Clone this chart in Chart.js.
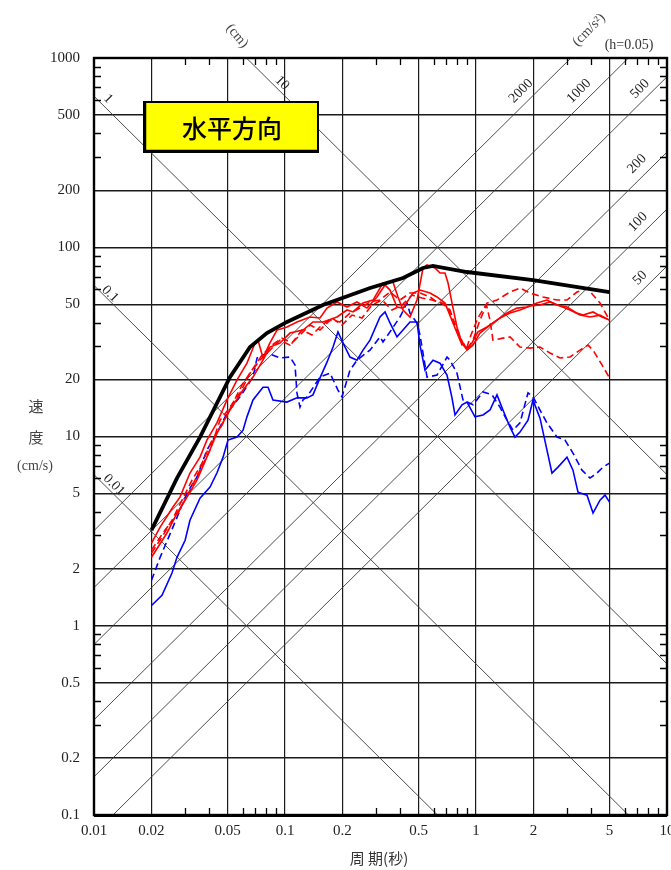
<!DOCTYPE html>
<html><head><meta charset="utf-8">
<script src="https://cdn.jsdelivr.net/npm/chart.js@4/dist/chart.umd.min.js"></script>
<style>html,body{margin:0;padding:0;background:#fff;}#wrap{width:671px;height:870px;position:relative;}</style>
</head><body><div id="wrap"><canvas id="c" width="671" height="870"></canvas></div>
<script>
// ---- axis ticks ----
const xTicks = [0.01,0.02,0.05,0.1,0.2,0.5,1,2,5,10];
const yTicks = [0.1,0.2,0.5,1,2,5,10,20,50,100,200,500,1000];
const minorMults = [3,4,6,7,8,9];
// ---- tripartite reference lines ----
const dispLines = [0.01,0.1,1,10];            // cm
const accLines = [50,100,200,500,1000,2000];  // cm/s2
// ---- envelope (black) ----
const envT = [0.02,0.0272,0.0359,0.0515,0.0656,0.0804,0.1024,0.158,0.279,0.415,0.528,0.595,0.897,1.99,5];
const envV = [3.2,6.03,9.93,20.6,29.7,35.2,40.3,49.5,60.9,68.8,77.7,79.6,74.0,67.1,58.0];
// ---- red solid 1 ----
const r1T = [0.02,0.0222,0.0259,0.0282,0.0318,0.0359,0.039,0.044,0.0497,0.0561,0.0632,0.0697,0.0722,0.0767,0.0834,0.0908,0.1024,0.1155,0.1351,0.1525,0.1659,0.1872,0.2112,0.2381,0.2687,0.3031,0.342,0.3675,0.3905,0.4147,0.4512,0.491,0.528,0.554,0.61,0.648,0.688,0.714,0.749,0.795,0.845,0.897,0.953,1.024,1.142,1.288,1.453,1.639,1.849,2.086,2.353,2.655,2.995,3.379,3.633,4.099,4.568,5];
const r1V = [2.73,3.32,4.24,4.78,6.41,7.78,9.57,11.8,15.6,19.9,24.4,31.2,32.3,26.0,31.2,36.5,37.9,40.3,42.8,42.3,47.7,51.4,48.3,51.4,47.7,54.6,65.5,65.5,54.6,46.6,42.8,52.6,77.7,80.6,77.7,73.1,73.1,64.7,50.7,37.9,31.2,29.3,31.2,35.7,37.9,41.2,44.9,47.7,48.3,50.7,52.6,49.5,48.3,44.9,43.8,45.5,42.8,41.2];
// ---- red solid 2 ----
const r2T = [0.02,0.0241,0.0272,0.0307,0.0346,0.039,0.044,0.0515,0.0603,0.068,0.0767,0.0834,0.0941,0.1062,0.1242,0.1401,0.1581,0.1872,0.2112,0.227,0.2561,0.2889,0.3258,0.3545,0.3858,0.4147,0.4678,0.509,0.5742,0.6248,0.6882,0.7578,0.8245,0.897,0.9645,1.049,1.184,1.335,1.507,1.699,1.918,2.163,2.44,2.753,3.105,3.503,3.953,4.459,5];
const r2V = [2.30,3.09,3.94,4.78,5.88,7.78,10.4,13.8,17.6,20.6,25.3,29.7,31.2,35.2,36.5,40.3,40.3,42.8,46.6,45.5,50.7,52.6,64.7,59.4,48.3,47.7,57.3,59.4,57.3,54.6,50.7,39.8,32.3,28.6,30.4,35.2,38.8,42.3,44.9,46.6,48.9,49.5,51.4,48.9,46.6,43.8,42.8,43.8,41.2];
// ---- red dashed 1 ----
const r3T = [0.02,0.0235,0.0272,0.0318,0.0359,0.0405,0.0457,0.0503,0.0581,0.0656,0.074,0.0834,0.0941,0.1062,0.1198,0.1351,0.1525,0.172,0.194,0.2189,0.247,0.2786,0.3143,0.3545,0.3999,0.4512,0.509,0.5742,0.6248,0.7049,0.7762,0.8447,0.897,0.9414,1.024,1.142,1.288,1.507,1.699,1.918,2.242,2.655,2.995,3.379,3.812,4.459,5];
const r3V = [2.51,3.20,3.84,5.21,6.64,8.48,12.2,13.8,17.0,21.6,25.3,28.6,32.3,30.4,34.4,38.8,36.5,41.2,40.3,44.9,47.7,51.4,52.6,58.0,52.6,57.3,57.3,54.6,51.4,49.5,38.8,30.4,29.7,34.4,42.3,50.7,52.6,58.0,60.9,57.3,54.6,52.6,52.6,58.0,60.9,50.7,41.2];
// ---- red dashed 2 ----
const r4T = [0.02,0.0227,0.0256,0.0289,0.0326,0.0368,0.0415,0.0468,0.0528,0.0595,0.0671,0.0758,0.0855,0.0964,0.1088,0.1227,0.1384,0.1561,0.1762,0.1988,0.2242,0.253,0.2854,0.322,0.3633,0.4098,0.4624,0.5216,0.5883,0.6637,0.731,0.7953,0.8549,0.9083,0.9645,1.049,1.134,1.184,1.227,1.384,1.507,1.699,1.918,2.163,2.44,2.753,3.105,3.503,3.858,4.099,4.568,5];
const r4V = [2.42,2.94,3.61,4.61,5.88,7.23,9.57,11.5,14.7,18.7,22.4,26.9,30.4,33.1,31.2,36.5,34.4,38.8,42.3,38.8,43.8,42.3,49.5,52.6,46.6,49.5,55.9,53.9,52.6,50.7,46.6,36.5,31.2,29.3,32.3,41.2,49.5,41.2,32.3,33.1,33.6,29.7,29.3,29.7,27.6,26.0,26.3,28.6,30.4,28.6,23.9,20.4];
// ---- blue solid ----
const b1T = [0.02,0.0227,0.0256,0.0272,0.03,0.0318,0.0359,0.0405,0.044,0.0474,0.0503,0.0561,0.0603,0.0632,0.068,0.0767,0.0815,0.0865,0.1024,0.1155,0.1303,0.1401,0.1525,0.1659,0.1784,0.1894,0.2012,0.2189,0.2381,0.2561,0.2786,0.3143,0.334,0.3545,0.3858,0.4147,0.4512,0.491,0.509,0.5408,0.5954,0.6478,0.7049,0.7487,0.7762,0.8447,0.897,0.9879,1.088,1.184,1.288,1.384,1.507,1.6,1.699,1.872,1.988,2.163,2.353,2.499,2.687,2.995,3.219,3.42,3.812,4.099,4.459,4.736,5];
const b1V = [1.28,1.45,1.90,2.30,2.83,3.61,4.72,5.40,6.41,7.78,9.57,9.93,10.8,12.7,15.6,18.2,18.2,15.6,15.2,16.0,16.0,16.6,20.4,24.7,29.7,35.7,31.2,26.3,25.3,28.6,32.3,42.8,45.5,39.8,33.6,36.5,40.3,40.3,30.4,22.4,25.3,24.4,21.1,16.0,13.0,14.7,15.2,12.7,13.0,13.8,16.6,13.8,11.2,9.93,10.55,12.2,15.6,12.5,8.48,6.41,6.89,7.78,6.64,5.08,4.90,3.94,4.61,4.90,4.50];
// ---- blue dashed ----
const b2T = [0.02,0.0222,0.0259,0.0307,0.0346,0.039,0.044,0.0497,0.0581,0.068,0.0714,0.0804,0.0941,0.1062,0.1128,0.1155,0.1198,0.1242,0.1303,0.1525,0.172,0.1894,0.1988,0.2189,0.2381,0.2786,0.3143,0.3258,0.3545,0.3999,0.4352,0.4512,0.491,0.509,0.554,0.6248,0.7049,0.731,0.7953,0.8549,0.9645,1.088,1.213,1.335,1.453,1.562,1.699,1.872,1.988,2.163,2.353,2.655,2.924,3.219,3.589,3.953,4.3,4.623,5];
const b2V = [1.74,2.30,3.32,5.02,6.11,8.48,10.4,13.3,16.2,20.6,26.0,27.6,26.0,26.3,23.9,17.0,14.3,15.6,16.2,20.6,21.6,17.6,16.2,22.4,25.3,28.6,33.6,31.6,35.7,42.8,50.7,44.9,39.8,34.4,20.6,21.1,26.3,25.3,21.6,15.6,14.7,17.2,16.6,14.3,12.2,10.8,11.8,17.0,16.2,13.8,11.8,9.93,9.57,8.17,6.64,6.03,6.41,6.89,7.23];

const zip = (T, V) => T.slice(0, Math.min(T.length, V.length)).map((t, i) => ({x: t, y: V[i]}));
const TWO_PI = 2 * Math.PI;
const xMin = 0.01, xMax = 10, yMin = 0.1, yMax = 1000;

const curve = (T, V, color, dashed, width, order) => ({
  data: zip(T, V), borderColor: color, borderWidth: width, borderDash: dashed ? [7, 4] : [],
  pointRadius: 0, fill: false, tension: 0, order: order
});
const datasets = [
  curve(envT, envV, '#000', false, 3.8, 0),
  curve(r1T, r1V, '#ff0000', false, 1.6, 1),
  curve(r2T, r2V, '#ff0000', false, 1.6, 1),
  curve(r3T, r3V, '#ff0000', true, 1.6, 1),
  curve(r4T, r4V, '#ff0000', true, 1.6, 1),
  curve(b1T, b1V, '#0000ff', false, 1.6, 2),
  curve(b2T, b2V, '#0000ff', true, 1.6, 2)
];
dispLines.forEach(d => datasets.push({
  data: [{x: xMin, y: TWO_PI * d / xMin}, {x: xMax, y: TWO_PI * d / xMax}],
  borderColor: '#3a3a3a', borderWidth: 0.9, pointRadius: 0, order: 10
}));
accLines.forEach(a => datasets.push({
  data: [{x: xMin, y: a * xMin / TWO_PI}, {x: xMax, y: a * xMax / TWO_PI}],
  borderColor: '#3a3a3a', borderWidth: 0.9, pointRadius: 0, order: 10
}));

const fmt = v => String(+v.toPrecision(3));
const serif = '"Liberation Serif", "DejaVu Serif", serif';
const cjk = '"Noto Sans CJK JP", "Noto Sans CJK SC", sans-serif';

function rotText(ctx, txt, x, y, deg, font, color) {
  ctx.save(); ctx.translate(x, y); ctx.rotate(deg * Math.PI / 180);
  ctx.font = font; ctx.fillStyle = color; ctx.textAlign = 'center'; ctx.textBaseline = 'middle';
  ctx.fillText(txt, 0, 0); ctx.restore();
}

const deco = {
  id: 'deco',
  afterDraw(chart) {
    const {ctx, chartArea: a, scales: {x, y}} = chart;
    ctx.save();
    // minor ticks (inside on all sides)
    ctx.strokeStyle = '#000'; ctx.lineWidth = 1.3;
    const L = 7;
    ctx.beginPath();
    for (let e = -2; e < 1; e++) for (const m of minorMults) {
      const px = Math.round(x.getPixelForValue(m * Math.pow(10, e))) + 0.5;
      ctx.moveTo(px, a.top); ctx.lineTo(px, a.top + L);
      ctx.moveTo(px, a.bottom); ctx.lineTo(px, a.bottom - L);
    }
    for (let e = -1; e < 3; e++) for (const m of minorMults) {
      const py = Math.round(y.getPixelForValue(m * Math.pow(10, e))) + 0.5;
      ctx.moveTo(a.left, py); ctx.lineTo(a.left + L, py);
      ctx.moveTo(a.right, py); ctx.lineTo(a.right - L, py);
    }
    ctx.stroke();
    // frame
    ctx.lineWidth = 2.4; ctx.strokeStyle = '#000';
    ctx.strokeRect(a.left, a.top, a.right - a.left, a.bottom - a.top);
    ctx.beginPath(); ctx.lineWidth = 1.2;
    ctx.moveTo(a.left, a.bottom + 1.5); ctx.lineTo(a.right, a.bottom + 1.5); ctx.stroke();

    // title box
    ctx.fillStyle = '#ffff00'; ctx.fillRect(144, 102, 174, 50);
    ctx.lineWidth = 2; ctx.strokeStyle = '#000'; ctx.strokeRect(144, 102, 174, 50);
    ctx.beginPath(); ctx.lineWidth = 1.5;
    ctx.moveTo(145.5, 102); ctx.lineTo(145.5, 150.5); ctx.lineTo(318, 150.5); ctx.stroke();
    ctx.fillStyle = '#000'; ctx.font = '500 25px ' + cjk; ctx.textAlign = 'center'; ctx.textBaseline = 'middle';
    ctx.fillText('水平方向', 232, 128);

    // displacement labels (rotated down-right)
    const lf = '14px ' + serif, lc = '#222';
    rotText(ctx, '1', 108, 99, 45, lf, lc);
    rotText(ctx, '10', 282, 83, 45, lf, lc);
    rotText(ctx, '0.1', 110, 294, 45, lf, lc);
    rotText(ctx, '0.01', 114, 485, 45, lf, lc);
    // acceleration labels (rotated up-right)
    rotText(ctx, '2000', 521, 91, -45, lf, lc);
    rotText(ctx, '1000', 579, 91, -45, lf, lc);
    rotText(ctx, '500', 640, 89, -45, lf, lc);
    rotText(ctx, '200', 637, 164, -45, lf, lc);
    rotText(ctx, '100', 638, 222, -45, lf, lc);
    rotText(ctx, '50', 640, 278, -45, lf, lc);
    // units
    rotText(ctx, '(cm)', 237, 36, 50, '14px ' + serif, '#444');
    rotText(ctx, '(cm/s²)', 589, 30, -45, '14px ' + serif, '#444');
    rotText(ctx, '(h=0.05)', 629, 45, 0, '14px ' + serif, '#333');

    // y axis title
    ctx.fillStyle = '#444'; ctx.textAlign = 'center'; ctx.textBaseline = 'middle';
    ctx.font = '15px ' + cjk;
    ctx.fillText('速', 36, 406);
    ctx.fillText('度', 36, 437);
    ctx.font = '14px ' + serif;
    ctx.fillText('(cm/s)', 35, 466);
    // x axis title
    ctx.font = '15px ' + cjk; ctx.fillStyle = '#333';
    ctx.fillText('周 期(秒)', 379, 858);
    ctx.restore();
  }
};

const noPad = s => { s.paddingLeft = 0; s.paddingRight = 0; s.paddingTop = 0; s.paddingBottom = 0; };

new Chart(document.getElementById('c'), {
  type: 'line',
  data: {datasets},
  options: {
    responsive: false, animation: false, devicePixelRatio: 1,
    layout: {padding: {top: 58, right: 4, left: 0, bottom: 0}},
    plugins: {legend: {display: false}, tooltip: {enabled: false}},
    elements: {line: {tension: 0}},
    scales: {
      x: {
        type: 'logarithmic', min: xMin, max: xMax, position: 'bottom',
        afterBuildTicks: s => { s.ticks = xTicks.map(v => ({value: v})); },
        afterFit: s => { s.height = 55; noPad(s); },
        ticks: {autoSkip: false, maxRotation: 0, minRotation: 0, padding: 7,
          font: {family: serif, size: 15}, color: '#222', callback: v => fmt(v)},
        grid: {color: '#1a1a1a', lineWidth: 1.2, drawTicks: false},
        border: {display: false}
      },
      y: {
        type: 'logarithmic', min: yMin, max: yMax, position: 'left',
        afterBuildTicks: s => { s.ticks = yTicks.map(v => ({value: v})); },
        afterFit: s => { s.width = 94; noPad(s); },
        ticks: {autoSkip: false, padding: 14, font: {family: serif, size: 15}, color: '#222', callback: v => fmt(v)},
        grid: {color: '#1a1a1a', lineWidth: 1.4, drawTicks: false},
        border: {display: false}
      }
    }
  },
  plugins: [deco]
});
</script></body></html>
